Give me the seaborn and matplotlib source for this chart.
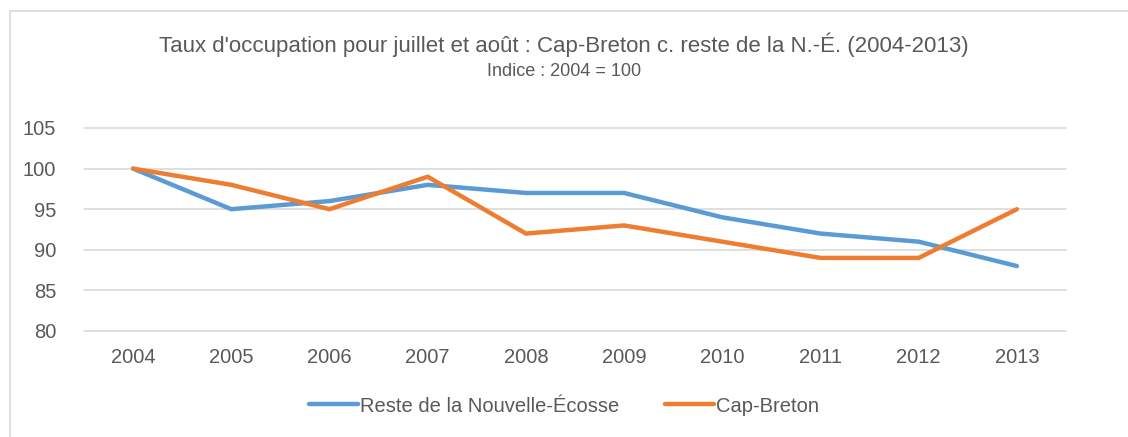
import matplotlib
matplotlib.use("Agg")
import matplotlib.pyplot as plt
import seaborn as sns
import pandas as pd
from matplotlib.patches import Rectangle
from matplotlib.lines import Line2D

years = ["2004", "2005", "2006", "2007", "2008", "2009", "2010", "2011", "2012", "2013"]
reste = [100, 95, 96, 98, 97, 97, 94, 92, 91, 88]
cap_breton = [100, 98, 95, 99, 92, 93, 91, 89, 89, 95]
series_names = ["Reste de la Nouvelle-Écosse", "Cap-Breton"]
colors = ["#5B9BD5", "#ED7D31"]

df = pd.DataFrame({
    "year": years * 2,
    "x": list(range(len(years))) * 2,
    "value": reste + cap_breton,
    "series": [series_names[0]] * len(years) + [series_names[1]] * len(years),
})

sns.set_theme(style="white")
plt.rcParams["font.family"] = ["Liberation Sans", "DejaVu Sans"]

fig = plt.figure(figsize=(11.28, 4.37), dpi=100)
ax = fig.add_axes([84 / 1128, 1 - 331 / 437, (1066 - 84) / 1128, (331 - 128) / 437])

sns.lineplot(data=df, x="x", y="value", hue="series", palette=colors,
             linewidth=3.2, ax=ax, legend=False, sort=False)
for ln in ax.lines:
    ln.set_solid_capstyle("round")
    ln.set_solid_joinstyle("miter")

ax.set_xlim(-0.5, len(years) - 0.5)
ax.set_ylim(80, 105)
ax.set_yticks([80, 85, 90, 95, 100, 105])
ax.set_xticks(range(len(years)))
ax.set_xticklabels(years)
ax.yaxis.grid(True, color="#D9D9D9", linewidth=1.2)
ax.set_axisbelow(True)
for gl in ax.get_ygridlines():
    gl.set_clip_on(False)
for s in ax.spines.values():
    s.set_visible(False)
ax.tick_params(axis="both", length=0, labelsize=14.5, colors="#595959")
ax.tick_params(axis="y", pad=20)
ax.tick_params(axis="x", pad=12)
ax.set_xlabel("")
ax.set_ylabel("")

fig.text(0.5, 1 - 45 / 437, "Taux d'occupation pour juillet et août : Cap-Breton c. reste de la N.-É. (2004-2013)",
         ha="center", va="center", fontsize=16, color="#595959")
fig.text(0.5, 1 - 72 / 437, "Indice : 2004 = 100", ha="center", va="center",
         fontsize=13, color="#595959")

handles = [Line2D([0], [0], color=c, linewidth=3.2, solid_capstyle="round") for c in colors]
fig.legend(handles, series_names, loc="center", bbox_to_anchor=(0.5, 1 - 406 / 437),
           ncol=2, frameon=False, fontsize=14.5, handlelength=2.4, handletextpad=0.1,
           columnspacing=2.3, labelcolor="#595959")

fig.add_artist(Rectangle((10 / 1128, -0.01), 1.1, 1 - 11 / 437 + 0.01, transform=fig.transFigure,
                         fill=False, edgecolor="#D9D9D9", linewidth=1.2))

fig.savefig("out.png", dpi=100)
